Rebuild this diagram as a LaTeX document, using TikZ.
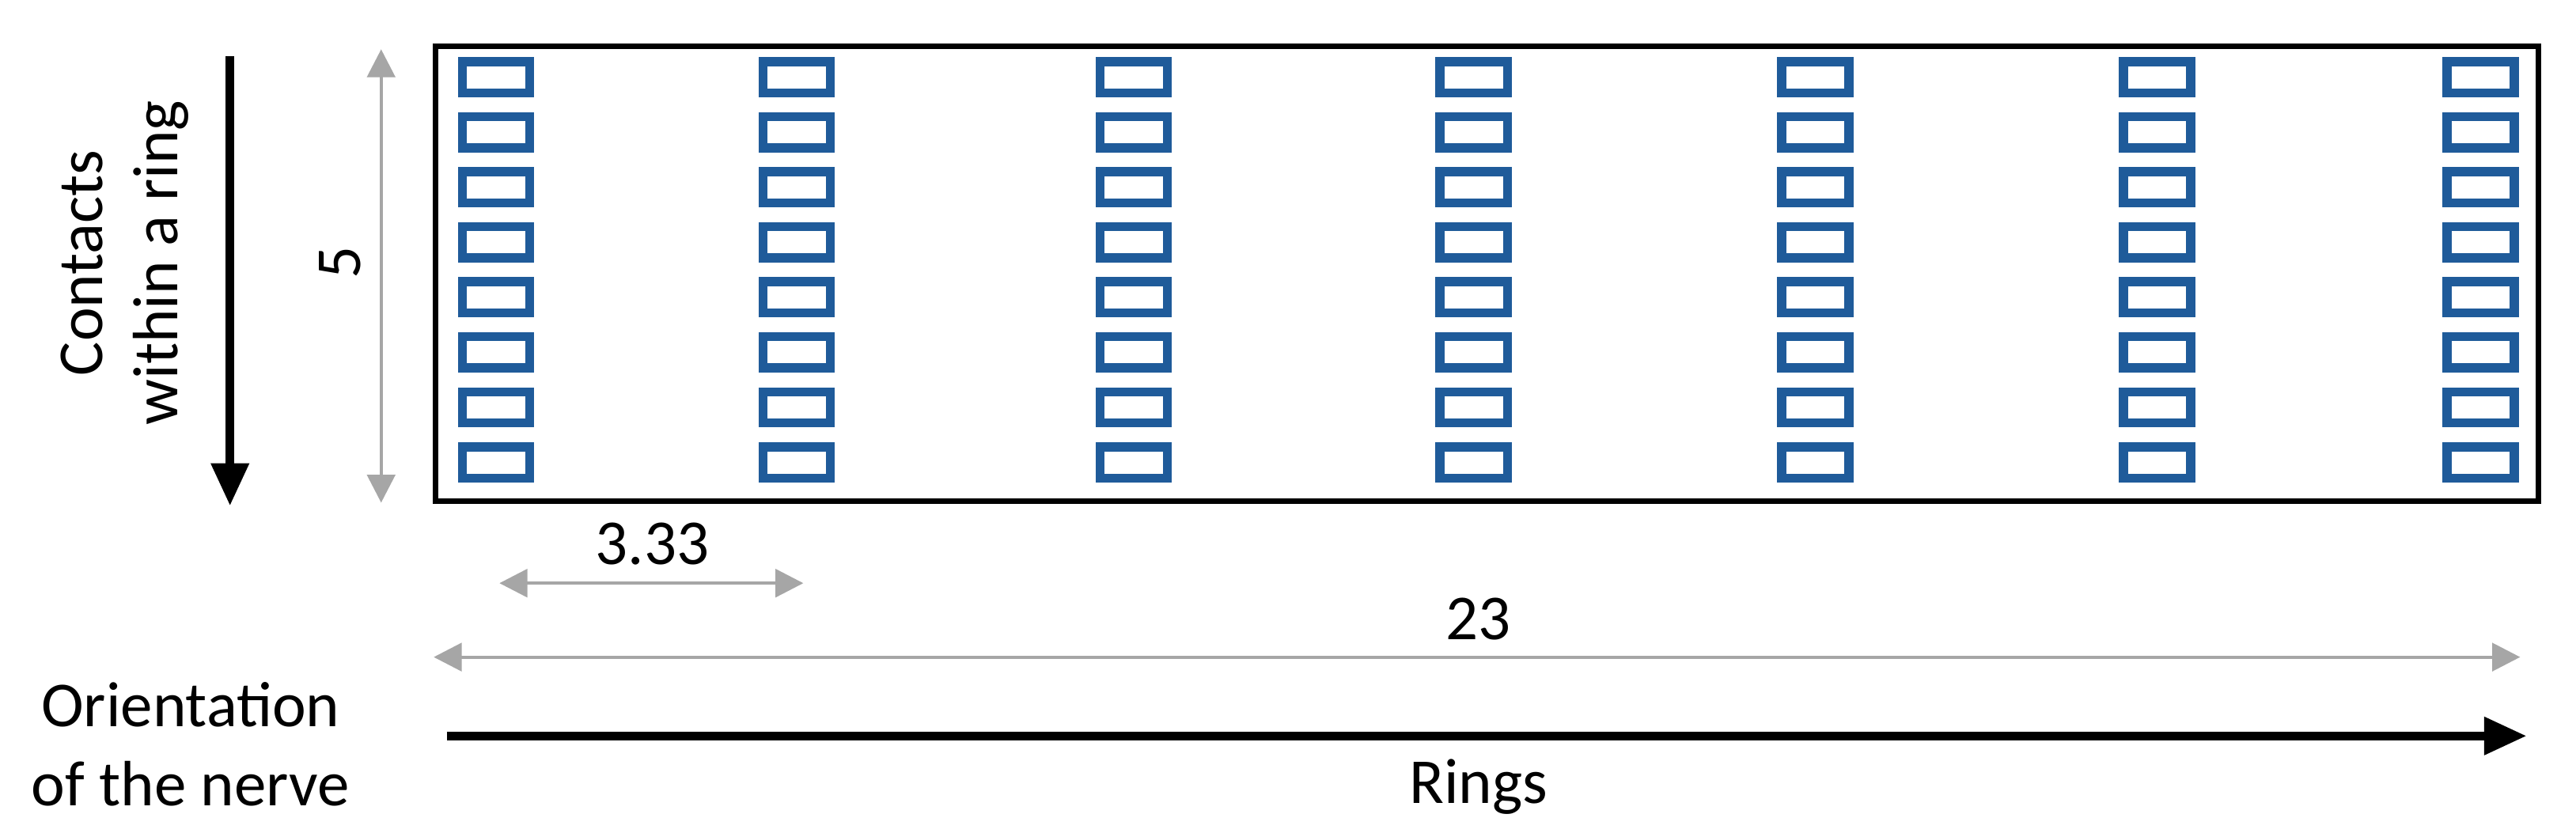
\documentclass[tikz,border=0pt]{standalone}
\usepackage{fontspec}
\setmainfont{Carlito}
\usetikzlibrary{arrows.meta}
\definecolor{cblue}{HTML}{1F5B9A}
\definecolor{dgray}{HTML}{A6A6A6}
\tikzset{
  contact/.style={draw=cblue,line width=5.5pt,minimum width=41pt,minimum height=19pt,inner sep=0pt},
  dimarrow/.style={draw=dgray,line width=2pt,{Triangle[width=17pt,length=17pt]}-{Triangle[width=17pt,length=17pt]}},
  bigarrow/.style={line width=5.5pt,-{Triangle[width=22pt,length=26pt]}},
  lbl/.style={font=\fontsize{39}{46}\selectfont,inner sep=0pt},
  pt/.style={inner sep=0pt,minimum size=0pt}
}
\begin{document}
\begin{tikzpicture}[x=1pt,y=-1pt]
\useasboundingbox (0,0) rectangle (1568,507);
\node[draw,line width=3.5pt,minimum width=1280pt,minimum height=277pt,inner sep=0pt] (box) at (905,166.5) {};
\foreach \x [count=\i] in {302,485,690,897,1105,1313,1510}{
  \foreach \y [count=\j] in {47,80.5,114,147.5,181,214.5,248,281.5}{
    \node[contact] (c\i-\j) at (\x,\y) {};
  }
}
\coordinate (ka) at (140,34);
\coordinate (kb) at (140,308);
\draw[bigarrow] (ka) -- (kb);
\node[lbl,rotate=90,align=center] (contacts) at (76,160) {Contacts\\within a ring};
\coordinate (fa) at (232,30);
\coordinate (fb) at (232,306);
\draw[dimarrow] (fa) -- (fb);
\node[lbl,rotate=90] (five) at (207,160) {5};
\coordinate (ta) at (304,355);
\coordinate (tb) at (489,355);
\draw[dimarrow] (ta) -- (tb);
\node[lbl] (t333) at (397,331) {3.33};
\coordinate (wa) at (264,400);
\coordinate (wb) at (1534,400);
\draw[dimarrow] (wa) -- (wb);
\node[lbl] (t23) at (900,377) {23};
\coordinate (ra) at (272,448);
\coordinate (rb) at (1538,448);
\draw[bigarrow] (ra) -- (rb);
\node[lbl] (rings) at (900,479) {Rings};
\node[lbl,align=center] (orient) at (116,453) {Orientation\\[2pt]of the nerve};
\end{tikzpicture}
\end{document}
